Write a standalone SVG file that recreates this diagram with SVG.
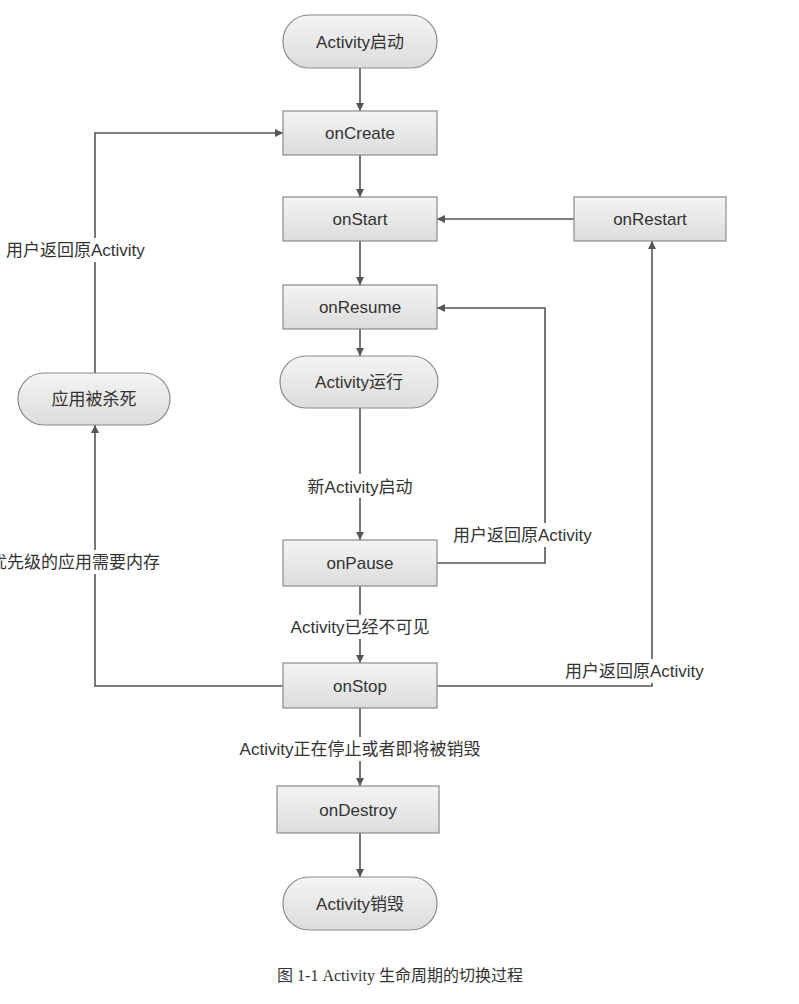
<svg xmlns="http://www.w3.org/2000/svg" width="799" height="1004" viewBox="0 0 799 1004">
<style>
.n{fill:url(#g);stroke:#8a8a8a;stroke-width:1.2}
.t{font-family:"Liberation Sans","Noto Sans CJK SC",sans-serif;font-size:17px;fill:#333;text-anchor:middle;dominant-baseline:central}
.l{font-family:"Liberation Sans","Noto Sans CJK SC",sans-serif;font-size:17px;fill:#333;dominant-baseline:central}
.c{fill:none;stroke:#555;stroke-width:1.6;marker-end:url(#a)}
</style>
<defs>
<linearGradient id="g" x1="0" y1="0" x2="0" y2="1"><stop offset="0" stop-color="#f4f4f4"/><stop offset="1" stop-color="#dcdcdc"/></linearGradient>
<marker id="a" viewBox="0 0 10 10" refX="10" refY="5" markerWidth="8" markerHeight="8" orient="auto" markerUnits="userSpaceOnUse"><path d="M0,0L10,5L0,10z" fill="#555"/></marker>
</defs>
<rect width="799" height="1004" fill="#fff"/>
<g id="connectors">
<path class="c" d="M360,68V111"/>
<path class="c" d="M360,155V197"/>
<path class="c" d="M360,241V285"/>
<path class="c" d="M360,329V356"/>
<path class="c" d="M360,408V540"/>
<path class="c" d="M360,586V663"/>
<path class="c" d="M360,708V786"/>
<path class="c" d="M360,833V877"/>
<path class="c" d="M574,219H437"/>
<path class="c" d="M437,563H545V308H437"/>
<path class="c" d="M437,686H652V241"/>
<path class="c" d="M283,686H95V425"/>
<path class="c" d="M95,373V133H283"/>
<rect x="290" y="474" width="140" height="24" fill="#fff"/>
<rect x="270" y="615" width="180" height="24" fill="#fff"/>
<rect x="200" y="737" width="320" height="24" fill="#fff"/>
<rect x="560" y="659" width="190" height="24" fill="#fff"/>
<rect x="450" y="523" width="186" height="24" fill="#fff"/>
<rect x="4" y="238" width="186" height="24" fill="#fff"/>
<rect x="0" y="550" width="222" height="24" fill="#fff"/>
<text class="t" x="360" y="487">新Activity启动</text>
<text class="t" x="360" y="627">Activity已经不可见</text>
<text class="t" x="360" y="749">Activity正在停止或者即将被销毁</text>
<text class="l" x="565" y="671">用户返回原Activity</text>
<text class="l" x="453" y="535">用户返回原Activity</text>
<text class="l" x="6" y="250">用户返回原Activity</text>
<text class="l" x="-10" y="562">优先级的应用需要内存</text>
</g>
<g id="start"><rect class="n" x="283" y="15" width="154" height="53" rx="26"/><text class="t" x="360" y="42">Activity启动</text></g>
<g id="onCreate"><rect class="n" x="283" y="111" width="154" height="44"/><text class="t" x="360" y="133">onCreate</text></g>
<g id="onStart"><rect class="n" x="283" y="197" width="154" height="44"/><text class="t" x="360" y="219">onStart</text></g>
<g id="onRestart"><rect class="n" x="574" y="197" width="152" height="44"/><text class="t" x="650" y="219">onRestart</text></g>
<g id="onResume"><rect class="n" x="283" y="285" width="154" height="44"/><text class="t" x="360" y="307">onResume</text></g>
<g id="running"><rect class="n" x="280" y="356" width="158" height="52" rx="26"/><text class="t" x="359" y="382">Activity运行</text></g>
<g id="killed"><rect class="n" x="18" y="373" width="152" height="52" rx="26"/><text class="t" x="94" y="399">应用被杀死</text></g>
<g id="onPause"><rect class="n" x="283" y="540" width="154" height="46"/><text class="t" x="360" y="563">onPause</text></g>
<g id="onStop"><rect class="n" x="283" y="663" width="154" height="45"/><text class="t" x="360" y="686">onStop</text></g>
<g id="onDestroy"><rect class="n" x="277" y="786" width="162" height="47"/><text class="t" x="358" y="810">onDestroy</text></g>
<g id="end"><rect class="n" x="283" y="877" width="154" height="53" rx="26"/><text class="t" x="360" y="904">Activity销毁</text></g>
<text x="400" y="975" font-family="'Liberation Serif','Noto Sans CJK SC',serif" font-size="16" fill="#333" text-anchor="middle" dominant-baseline="central">图 1-1   Activity 生命周期的切换过程</text>
</svg>
